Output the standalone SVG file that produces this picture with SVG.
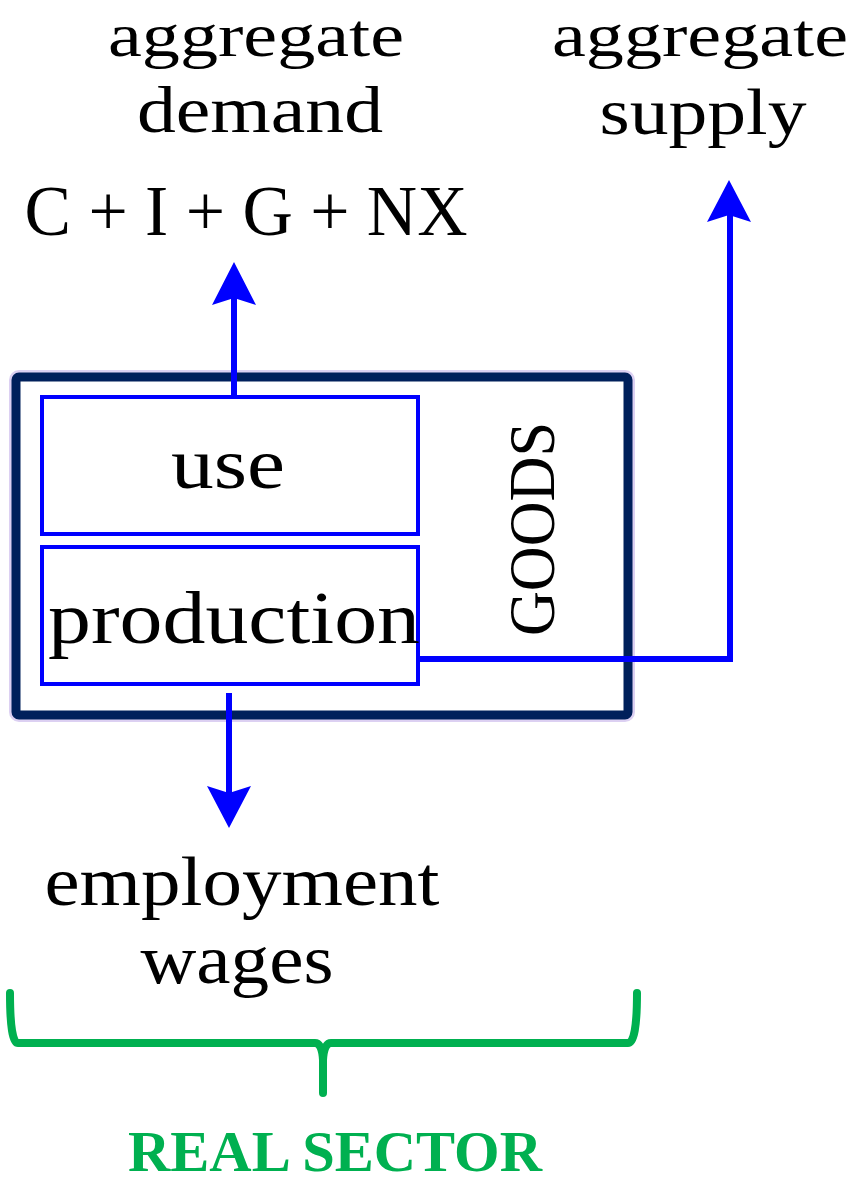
<svg xmlns="http://www.w3.org/2000/svg" width="866" height="1184" viewBox="0 0 866 1184">
<defs>
<style>
.t{font-family:"Liberation Serif","Times New Roman",serif;fill:#000;text-anchor:middle}
.b{fill:none;stroke:#0000FF;stroke-width:4}
.c{fill:none;stroke:#0000FF;stroke-width:6}
.ah{fill:#0000FF}
</style>
</defs>
<rect width="866" height="1184" fill="#fff"/>
<g id="labels-top">
<text class="t" x="256" y="56" font-size="62" textLength="296" lengthAdjust="spacingAndGlyphs">aggregate</text>
<text class="t" x="260" y="132" font-size="66" textLength="246" lengthAdjust="spacingAndGlyphs">demand</text>
<text class="t" x="700" y="56" font-size="62" textLength="296" lengthAdjust="spacingAndGlyphs">aggregate</text>
<text class="t" x="703" y="134" font-size="66" textLength="207" lengthAdjust="spacingAndGlyphs">supply</text>
<text class="t" x="246" y="235" font-size="72" textLength="443" lengthAdjust="spacingAndGlyphs">C + I + G + NX</text>
</g>
<g id="goods">
<rect x="16" y="377" width="612" height="338" fill="none" stroke="#dcd0f2" stroke-width="14" rx="3"/>
<rect x="16" y="377" width="612" height="338" fill="#fff" stroke="#00205B" stroke-width="9" rx="3"/>
<g transform="translate(554,529) rotate(-90)"><text class="t" x="0" y="0" font-size="66" textLength="214" lengthAdjust="spacingAndGlyphs">GOODS</text></g>
</g>
<g id="use">
<rect class="b" x="42" y="397" width="376" height="137" fill="#fff"/>
<text class="t" x="228" y="488" font-size="72" textLength="114" lengthAdjust="spacingAndGlyphs">use</text>
</g>
<g id="production">
<rect class="b" x="42" y="547" width="376" height="137" fill="#fff"/>
<text class="t" x="234" y="643" font-size="74" textLength="372" lengthAdjust="spacingAndGlyphs">production</text>
</g>
<g id="connectors">
<line class="c" x1="234" y1="397" x2="234" y2="295"/>
<polygon class="ah" points="234,262 256,305 234,298 212,305"/>
<polyline class="c" points="418,659 730,659 730,215"/>
<polygon class="ah" points="729,180 751,222 729,215 707,222"/>
<line class="c" x1="229" y1="693" x2="229" y2="795"/>
<polygon class="ah" points="229,828 207,786 229,793 251,786"/>
</g>
<g id="labels-bottom">
<text class="t" x="242" y="905" font-size="70" textLength="395" lengthAdjust="spacingAndGlyphs">employment</text>
<text class="t" x="237" y="983" font-size="70" textLength="193" lengthAdjust="spacingAndGlyphs">wages</text>
</g>
<g id="real-sector">
<path d="M10,993 Q10,1043 18,1043 L315,1043 Q322,1043 323,1060 L323,1093 L323,1060 Q324,1043 331,1043 L628,1043 Q637,1043 637,993" fill="none" stroke="#00B050" stroke-width="8" stroke-linecap="round" stroke-linejoin="round"/>
<text x="335" y="1171" font-family="Liberation Serif,Times New Roman,serif" font-weight="bold" font-size="58" fill="#00B050" text-anchor="middle" textLength="414" lengthAdjust="spacingAndGlyphs">REAL SECTOR</text>
</g>
</svg>
